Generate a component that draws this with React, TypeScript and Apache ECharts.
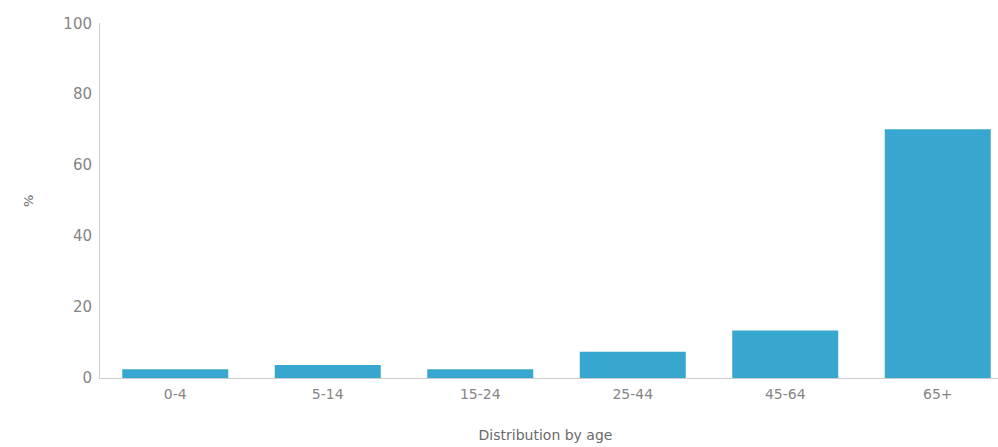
import React, { useEffect, useRef } from "react";
import * as echarts from "echarts";

const categories = ["0-4", "5-14", "15-24", "25-44", "45-64", "65+"];
const values = [2.5, 3.7, 2.5, 7.4, 13.4, 70.2];
const yTicks = [0, 20, 40, 60, 80, 100];

export default function App() {
  const ref = useRef<HTMLDivElement>(null);
  useEffect(() => {
    if (!ref.current) return;
    const chart = echarts.init(ref.current, undefined, { renderer: "svg" });
    const font = "DejaVu Sans, Verdana, sans-serif";
    chart.setOption({
      animation: false,
      grid: { left: 99, right: 6, top: 23.5, bottom: 68.5, containLabel: false },
      xAxis: {
        type: "category",
        data: categories,
        name: "Distribution by age",
        nameLocation: "middle",
        nameGap: 50,
        nameTextStyle: { color: "#6a6a6a", fontSize: 14, fontFamily: font, padding: [0, 22, 0, 0] },
        axisLine: { lineStyle: { color: "#ccc" } },
        axisTick: { alignWithLabel: true, length: 3, lineStyle: { color: "#ccc" } },
        axisLabel: { color: "#858585", fontSize: 14, fontFamily: font, margin: 9 },
      },
      yAxis: {
        type: "value",
        min: yTicks[0],
        max: yTicks[yTicks.length - 1],
        interval: 20,
        name: "%",
        nameLocation: "middle",
        nameGap: 64,
        nameTextStyle: { color: "#6a6a6a", fontSize: 13, fontFamily: font },
        axisLine: { show: true, lineStyle: { color: "#ccc" } },
        axisTick: { show: false },
        splitLine: { show: false },
        axisLabel: { color: "#858585", fontSize: 15, fontFamily: font, margin: 7 },
      },
      series: [
        {
          type: "bar",
          data: values,
          barWidth: "69.5%",
          itemStyle: { color: "#38a7cf" },
        },
      ],
    });
    return () => chart.dispose();
  }, []);
  return (
    <div style={{ position: "fixed", left: 0, top: 0, width: 998, height: 447, overflow: "hidden", background: "#fff" }}>
      <div ref={ref} style={{ width: 1020, height: 447 }} />
    </div>
  );
}
